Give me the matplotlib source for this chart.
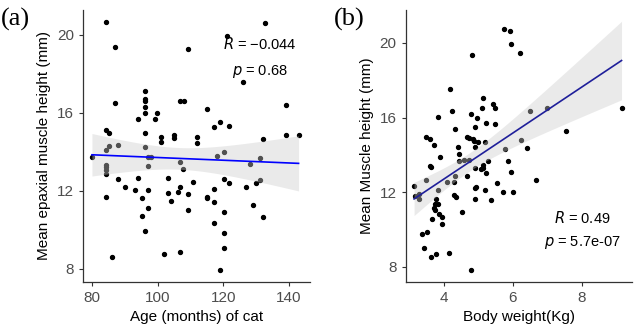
import numpy as np
import matplotlib.pyplot as plt

plt.rcParams['font.family'] = ['Liberation Sans', 'DejaVu Sans']

# (a) age of cat vs mean epaxial muscle height
age = [84.3, 87.1, 109.2, 96.1, 96.1, 96.1, 96.1, 96.1, 87.1, 107, 108, 99.9, 94, 99.1,
       84.2, 85.2, 96.1, 101.1, 101.1, 105, 105, 112.1, 112.1, 85.2, 88.1, 96.1,
       132.8, 121.1, 126.1, 115.2, 139.1, 119, 117.2, 121.9, 132.2, 139.1, 143,
       80, 84.2, 84.2, 84.2, 84.2, 84.2, 97.1, 98.1, 97.1, 88.1, 94, 90.2, 93.2, 97.1,
       84.2, 95.2, 97, 95.2, 96.1, 86.1, 103.2, 107, 107.9, 107, 110.9, 103.2, 106.2,
       104.1, 109.2, 109.2, 102, 107,
       118, 120.2, 128.2, 131.2, 120.2, 121.9, 127, 130, 131.2, 117.2, 115.2, 115.2,
       117.2, 120.2, 129.2, 132, 117.2, 120.2, 120.2, 119]
height_a = [20.65, 19.4, 19.3, 17.1, 16.7, 16.6, 16.3, 16.0, 16.5, 16.6, 16.6, 16.0, 15.7, 15.7,
            15.1, 14.96, 14.96, 14.75, 14.5, 14.87, 14.7, 14.75, 14.45, 14.3, 14.37, 14.24,
            20.6, 19.95, 17.6, 16.2, 16.4, 15.55, 15.27, 15.35, 14.65, 14.84, 14.84,
            13.73, 14.07, 13.33, 13.21, 13.08, 12.87, 13.73, 13.73, 13.28, 12.6, 12.68, 12.19, 12.05, 12.05,
            11.68, 11.64, 11.1, 10.73, 9.93, 8.63, 12.68, 13.47, 13.13, 12.22, 12.43, 11.88, 11.93,
            11.49, 11.83, 11.03, 8.75, 8.86,
            13.81, 13.98, 13.38, 13.68, 12.6, 12.4, 12.19, 12.4, 12.55, 12.09, 11.7, 11.63,
            11.45, 10.9, 11.25, 10.65, 10.34, 9.83, 9.09, 7.95]

# (b) body weight vs mean muscle height
weight = [5.73, 5.92, 5.95, 6.19, 4.81, 4.18, 5.13, 5.41, 5.47, 5.10, 4.24, 3.83, 4.78, 4.96,
          5.21, 5.47, 4.89, 4.31, 3.48, 3.59, 3.72, 4.67, 4.73, 4.83, 4.88, 4.98, 5.18, 4.41, 4.89,
          6.48, 6.99, 9.14, 7.53, 6.22, 6.41,
          4.44, 4.44, 4.59, 4.73, 3.9, 3.59, 3.64, 3.14, 3.48, 3.28, 3.17, 3.28, 3.84, 4.32, 4.30,
          4.08, 4.67, 4.90, 5.14, 5.12, 5.22, 5.28, 5.07, 5.77, 5.85, 5.95, 5.54, 5.72, 6.0, 5.36,
          5.19, 4.93, 4.91, 4.89, 4.30, 4.35, 4.53, 3.77, 3.74, 3.84, 3.72, 3.74, 3.86, 3.96, 3.96,
          3.67, 3.38, 3.51, 3.43, 3.62, 3.77, 4.15, 4.78, 6.68]
height_b = [20.73, 20.66, 19.93, 19.45, 19.36, 17.52, 17.07, 16.73, 16.53, 16.53, 16.34, 16.02, 16.18, 15.97,
            15.7, 15.65, 15.48, 15.38, 14.98, 14.84, 14.54, 14.98, 14.93, 14.84, 14.77, 14.71, 14.71, 14.45, 14.45,
            16.37, 16.5, 16.53, 15.29, 14.82, 14.39,
            14.05, 13.7, 13.73, 13.73, 13.91, 13.43, 13.34, 12.36, 12.66, 11.9, 11.81, 11.63, 12.13, 12.89, 12.54,
            12.54, 12.88, 13.29, 13.47, 13.29, 13.05, 13.7, 13.24, 14.31, 13.68, 13.11, 12.49, 12.0, 12.0, 11.59,
            12.13, 12.3, 12.22, 11.64, 11.86, 11.74, 10.96, 11.64, 11.38, 11.38, 11.18, 11.06, 10.83, 10.68, 10.29,
            10.56, 9.75, 9.86, 9.04, 8.55, 8.68, 8.77, 7.83, 12.66]


def lm_band(x, y):
    # straight line fit with 95% confidence band, like geom_smooth(method = "lm")
    x = np.asarray(x, float)
    y = np.asarray(y, float)
    n = len(x)
    b, a = np.polyfit(x, y, 1)
    resid = y - (a + b * x)
    s = np.sqrt(np.sum(resid ** 2) / (n - 2))
    sxx = np.sum((x - x.mean()) ** 2)
    xs = np.linspace(x.min(), x.max(), 80)
    fit = a + b * xs
    se = s * np.sqrt(1 / n + (xs - x.mean()) ** 2 / sxx)
    return xs, fit, fit - 1.987 * se, fit + 1.987 * se


def style_axes(ax):
    for side in ['top', 'right']:
        ax.spines[side].set_visible(False)
    for side in ['left', 'bottom']:
        ax.spines[side].set_color('#333333')
        ax.spines[side].set_linewidth(0.9)
    ax.tick_params(colors='#333333', labelcolor='#4D4D4D', labelsize=11, length=3, width=0.8)


fig = plt.figure(figsize=(6.38, 3.32), dpi=100)
ax1 = fig.add_axes([0.130, 0.151, 0.356, 0.819])
ax2 = fig.add_axes([0.636, 0.151, 0.355, 0.819])

panels = [
    (ax1, age, height_a, 'blue', 'Age (months) of cat', 'Mean epaxial muscle height (mm)'),
    (ax2, weight, height_b, '#1F1F9A', 'Body weight(Kg)', 'Mean Muscle height (mm)'),
]
for ax, x, y, col, xl, yl in panels:
    ax.scatter(x, y, s=8, color='black', zorder=2)
    xs, fit, lo, hi = lm_band(x, y)
    ax.fill_between(xs, lo, hi, color='#CCCCCC', alpha=0.4, lw=0, zorder=3)
    ax.plot(xs, fit, color=col, lw=1.2, zorder=4)
    ax.set_xlabel(xl, fontsize=11)
    ax.set_ylabel(yl, fontsize=11)
    ax.set_yticks([8, 12, 16, 20])
    style_axes(ax)

ax1.set_xlim(77.26, 146.5)
ax1.set_ylim(7.33, 21.28)
ax1.set_xticks([80, 100, 120, 140])
ax2.set_xlim(2.90, 9.45)
ax2.set_ylim(7.2, 21.77)
ax2.set_xticks([4, 6, 8])

ax1.text(0.78, 0.875, '$R$ = \u22120.044', transform=ax1.transAxes, ha='center', va='center', fontsize=10.5)
ax1.text(0.78, 0.775, '$p$ = 0.68', transform=ax1.transAxes, ha='center', va='center', fontsize=10.5)
ax2.text(0.78, 0.235, '$R$ = 0.49', transform=ax2.transAxes, ha='center', va='center', fontsize=10.5)
ax2.text(0.78, 0.145, '$p$ = 5.7e-07', transform=ax2.transAxes, ha='center', va='center', fontsize=10.5)

fig.text(0.002, 0.94, '(a)', fontsize=19, family='Liberation Serif', va='center')
fig.text(0.524, 0.94, '(b)', fontsize=19, family='Liberation Serif', va='center')

fig.savefig('out.png', dpi=100)
